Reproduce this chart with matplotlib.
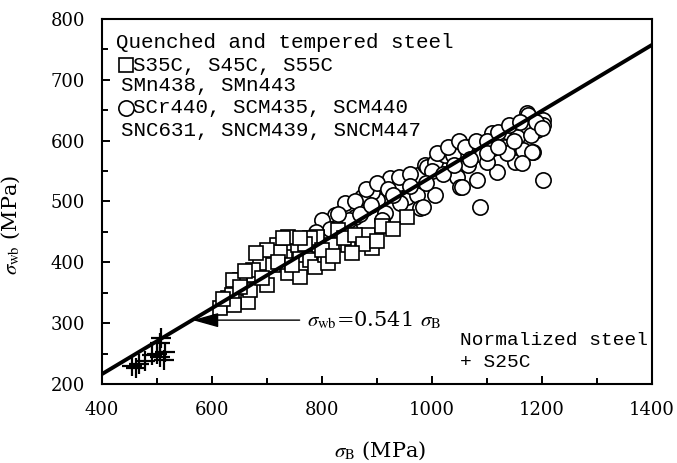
"""Rotating bending fatigue limit vs tensile strength of steels."""

import matplotlib
matplotlib.use("Agg")
import matplotlib.pyplot as plt
from matplotlib.ticker import MultipleLocator

plt.rcParams["font.family"] = ["DejaVu Serif"]
plt.rcParams["mathtext.fontset"] = "stix"

SLOPE = 0.541
line_x = [400, 1400]

# quenched and tempered: carbon steels / Mn steels (squares)
sq_x = [614, 629, 636, 665, 669, 669, 651, 700, 687, 711, 718, 733, 738, 760, 760,
        756, 778, 787, 791, 805, 811, 818, 778, 847, 884, 891, 955, 829, 675, 638,
        738, 724, 650, 690, 700, 720, 745, 770, 800, 820, 840, 860, 875, 900, 760,
        730, 680, 660, 640, 620, 855, 910, 930]
sq_y = [325, 341, 346, 335, 354, 379, 371, 363, 399, 395, 428, 409, 382, 376, 412,
        428, 404, 392, 441, 412, 399, 428, 440, 428, 445, 423, 474, 453, 387, 371,
        441, 417, 360, 375, 420, 400, 395, 430, 420, 410, 440, 445, 430, 435, 440,
        440, 415, 385, 330, 340, 415, 460, 455]

# quenched and tempered: Cr / Cr-Mo / Ni-Cr-Mo steels (circles)
ci_x = [824, 845, 860, 878, 900, 915, 924, 942, 955, 973, 978, 975, 987, 891, 873,
        842, 942, 909, 833, 851, 809, 991, 1005, 1024, 1045, 1051, 1065, 1069, 1091,
        1082, 1109, 1111, 1118, 1133, 1138, 1155, 1151, 1165, 1184, 1173, 1191, 1087,
        1202, 1005, 1055, 984, 1038, 1100, 1136, 1175, 1202, 1202, 1182, 1164, 785,
        800, 815, 790, 860, 880, 900, 920, 940, 960, 1000, 1010, 1030, 1050, 1060,
        1080, 1100, 1120, 1140, 1160, 850, 830, 870, 890, 930, 960, 990, 1020, 1040,
        1070, 1100, 1120, 1150, 1180, 1190, 1200]
ci_y = [478, 486, 474, 489, 502, 481, 538, 530, 507, 510, 489, 543, 560, 516, 507,
        497, 497, 469, 464, 453, 448, 557, 565, 576, 540, 524, 560, 590, 577, 535,
        612, 588, 549, 590, 614, 606, 565, 585, 582, 645, 617, 491, 535, 510, 524,
        491, 576, 565, 580, 642, 634, 625, 582, 563, 430, 470, 455, 450, 500, 520,
        530, 520, 540, 545, 550, 580, 590, 600, 590, 600, 600, 615, 625, 630, 470,
        480, 480, 495, 510, 525, 530, 545, 560, 570, 580, 590, 600, 610, 630, 620]

# normalized steel + S25C (crosses)
pl_x = [455, 462, 468, 478, 490, 500, 505, 512, 515, 505, 508]
pl_y = [230, 226, 233, 238, 248, 250, 245, 240, 252, 268, 275]

fig = plt.figure(figsize=(6.77, 4.63), dpi=100)
ax = fig.add_axes([0.1507, 0.1706, 0.8123, 0.7884])

mk = dict(linestyle="none", markerfacecolor="white", markeredgecolor="black",
          markeredgewidth=1.2, clip_on=False)
ax.plot(ci_x, ci_y, marker="o", markersize=11, zorder=3, **mk)
ax.plot(sq_x, sq_y, marker="s", markersize=10.5, zorder=3, **mk)
ax.plot(pl_x, pl_y, linestyle="none", marker="+", markersize=14,
        markeredgewidth=1.6, color="black", zorder=3)

ax.plot(line_x, [SLOPE * v for v in line_x], color="black", lw=2.8, zorder=4)

ax.annotate(r"$\sigma_{\rm wb}$=0.541 $\sigma_{\rm B}$", xy=(565, 305), xytext=(772, 305),
            fontsize=15, va="center", ha="left",
            arrowprops=dict(arrowstyle="-|>,head_length=1.0,head_width=0.28",
                            mutation_scale=16, color="black", lw=1.0,
                            shrinkA=3, shrinkB=0))

# in-plot legend text
mono = dict(family="Liberation Mono", fontsize=15, va="center")
ax.text(425, 762, "Quenched and tempered steel", **mono)
ax.plot([444], [724], marker="s", markersize=10.5, **mk)
ax.text(456, 724, "S35C, S45C, S55C", **mono)
ax.text(435, 691, "SMn438, SMn443", **mono)
ax.plot([444], [654], marker="o", markersize=11, **mk)
ax.text(456, 654, "SCr440, SCM435, SCM440", **mono)
ax.text(435, 617, "SNC631, SNCM439, SNCM447", **mono)
mono["fontsize"] = 14
ax.text(1051, 272, "Normalized steel", **mono)
ax.text(1051, 236, "+ S25C", **mono)

ax.set_xlim(400, 1400)
ax.set_ylim(200, 800)
ax.xaxis.set_major_locator(MultipleLocator(200))
ax.xaxis.set_minor_locator(MultipleLocator(100))
ax.yaxis.set_major_locator(MultipleLocator(100))
ax.yaxis.set_minor_locator(MultipleLocator(50))
ax.tick_params(which="both", direction="in", width=1.4, labelsize=13)
ax.tick_params(which="major", length=6)
ax.tick_params(which="minor", length=4)
ax.tick_params(axis="x", pad=12)
ax.tick_params(axis="y", pad=12)
for sp in ax.spines.values():
    sp.set_linewidth(1.5)

ax.set_xlabel(r"$\sigma_{\rm B}$ (MPa)", fontsize=15)
ax.set_ylabel(r"$\sigma_{\rm wb}$ (MPa)", fontsize=15)
ax.xaxis.set_label_coords(0.505, -0.153)
ax.yaxis.set_label_coords(-0.145, 0.436)

fig.savefig("out.png", dpi=100)
